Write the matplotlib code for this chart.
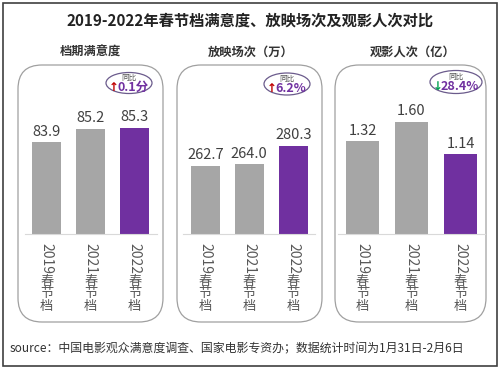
import matplotlib

matplotlib.use("Agg")
import matplotlib.pyplot as plt
from matplotlib.patches import Ellipse, FancyBboxPatch, Rectangle
from matplotlib.transforms import blended_transform_factory

plt.rcParams["font.family"] = ["Noto Sans CJK SC", "DejaVu Sans"]

# data
years = ["2019", "2021", "2022"]
season = "春节档"
satisfaction = [83.9, 85.2, 85.3]
screenings = [262.7, 264.0, 280.3]  # 万
audience = [1.32, 1.60, 1.14]  # 亿
panel_titles = ["档期满意度", "放映场次（万）", "观影人次（亿）"]
yoy_text = ["0.1分", "6.2%", "28.4%"]
yoy_up = [True, True, False]

title = "2019-2022年春节档满意度、放映场次及观影人次对比"
source = "source：中国电影观众满意度调查、国家电影专资办；数据统计时间为1月31日-2月6日"

GRAY = "#a6a6a6"
PURPLE = "#7030a0"
W, H = 500, 369

fig = plt.figure(figsize=(W / 100, H / 100), dpi=100)
bg = fig.add_axes([0, 0, 1, 1])
bg.set_xlim(0, W)
bg.set_ylim(H, 0)
bg.axis("off")

# outer frame + titles
bg.add_patch(Rectangle((3, 3), 494, 363, fill=False, ec="#404040", lw=1.2))
bg.text(250, 21, title, ha="center", va="center", fontsize=11, fontweight="bold", color="#222222")
bg.text(10, 349, source, ha="left", va="center", fontsize=8.6, color="#333333")

# layout per panel: frame (left, right), axes (left, right), badge (cx, cy, w, h), ylim, fmt
panels = [
    dict(vals=satisfaction, frame=(18, 163), ax=(24.7, 156.7), badge=(129, 83, 46, 21),
         ylim=(75.0, 88.0), fmt="{:.1f}", tx=90),
    dict(vals=screenings, frame=(177, 322), ax=(183.3, 315.3), badge=(287, 84, 46, 22),
         ylim=(202.6, 320.6), fmt="{:.1f}", tx=251),
    dict(vals=audience, frame=(335, 486), ax=(338, 485), badge=(456, 82, 52, 23),
         ylim=(0, 1.91), fmt="{:.2f}", tx=413),
]

ax_top, ax_bot = 100, 234

for i, p in enumerate(panels):
    fl, fr = p["frame"]
    bg.add_patch(FancyBboxPatch((fl, 65), fr - fl, 322 - 65,
                                boxstyle="round,pad=0,rounding_size=24",
                                fill=False, ec="#a0a0a0", lw=0.9))
    bg.text(p["tx"], 52, panel_titles[i], ha="center", va="center",
            fontsize=8.8, fontweight="bold", color="#333333")

    cx, cy, ew, eh = p["badge"]
    bg.add_patch(Ellipse((cx, cy), ew, eh, fill=False, ec="#6b5b8c", lw=0.9))
    bg.text(cx, cy - 5.5, "同比", ha="center", va="center", fontsize=5.5, color="#555555")
    arrow = "↑" if yoy_up[i] else "↓"
    acol = "#c00000" if yoy_up[i] else "#00a050"
    bg.annotate(arrow, (cx, cy + 4.5), ha="right", va="center", fontsize=8.5,
                fontweight="bold", color=acol, family=["DejaVu Sans"],
                xytext=(-len(yoy_text[i]) * 2.6 + 3, 0), textcoords="offset points")
    bg.annotate(yoy_text[i], (cx, cy + 4.5), ha="center", va="center", fontsize=9,
                fontweight="bold", color=PURPLE,
                xytext=(3, 0), textcoords="offset points")

    al, ar = p["ax"]
    ax = fig.add_axes([al / W, 1 - ax_bot / H, (ar - al) / W, (ax_bot - ax_top) / H])
    ax.patch.set_alpha(0)
    x = list(range(len(years)))
    colors = [GRAY, GRAY, PURPLE]
    ax.bar(x, p["vals"], width=0.67, color=colors, bottom=0)
    ax.set_xlim(-0.5, 2.5)
    ax.set_ylim(*p["ylim"])
    for s in ["top", "left", "right"]:
        ax.spines[s].set_visible(False)
    ax.spines["bottom"].set_color("#d9d9d9")
    ax.set_xticks([])
    ax.set_yticks([])

    for xi, v in zip(x, p["vals"]):
        ax.annotate(p["fmt"].format(v), (xi, v), xytext=(0, 2.5), textcoords="offset points",
                    ha="center", va="bottom", fontsize=10.5, color="#404040")

    tr = blended_transform_factory(ax.transData, bg.transData)
    for xi, yr in zip(x, years):
        ax.text(xi, 243, yr, transform=tr, rotation=-90, ha="center", va="top",
                fontsize=10, color="#595959", clip_on=False)
        ax.text(xi, 275, "\n".join(season), transform=tr, ha="center", va="top",
                fontsize=9.5, color="#595959", linespacing=0.95, clip_on=False)

fig.savefig("out.png", dpi=100)
